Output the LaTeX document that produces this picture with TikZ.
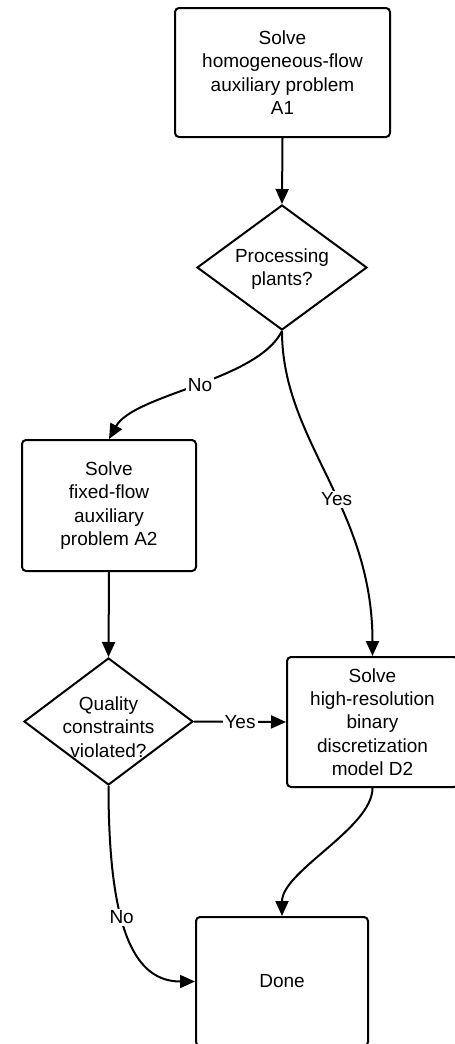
\documentclass[tikz,border=0pt]{standalone}
\usepackage{fontspec}
\setmainfont{Liberation Sans}
\usetikzlibrary{shapes.geometric,arrows.meta}
\begin{document}
\begin{tikzpicture}[x=0.5pt,y=-0.5pt,
  every node/.style={font=\fontsize{9.5pt}{11.7pt}\selectfont},
  box/.style={draw,line width=1pt,rounded corners=2pt,rectangle,align=center,inner sep=0pt},
  dia/.style={draw,line width=1pt,diamond,inner sep=0pt},
  txt/.style={align=center,inner sep=0pt},
  lbl/.style={fill=white,inner sep=1pt},
  conn/.style={line width=1pt,-{Triangle[length=7.5pt,width=6.5pt]}}]
\useasboundingbox (0,0) rectangle (455,1044);
\node[box,minimum width=107.5pt,minimum height=64.5pt] (a1) at (282.5,72.5) {Solve\\homogeneous-flow\\auxiliary problem\\A1};
\node[dia,minimum width=85pt,minimum height=62.5pt] (p) at (282,267.5) {};
\node[txt] (pt) at (282,269) {Processing\\plants?};
\node[box,minimum width=87pt,minimum height=65.5pt] (a2) at (109,505.5) {Solve\\fixed-flow\\auxiliary\\problem A2};
\node[dia,minimum width=84.5pt,minimum height=63.5pt] (q) at (108.5,721.5) {};
\node[txt] (qt) at (108.5,727) {Quality\\constraints\\violated?};
\node[box,minimum width=85.5pt,minimum height=65pt] (d2) at (372.5,722) {Solve\\high-resolution\\binary\\discretization\\model D2};
\node[box,minimum width=86pt,minimum height=64.5pt] (done) at (282,981.5) {Done};

\draw[conn] (a1.south) -- (p.north);
\draw[conn] (p.south) .. controls +(-25,50) and +(25,-45) .. node[lbl,pos=0.48] (no1) {No} (a2.north);
\draw[conn] (p.south) .. controls +(0,110) and +(0,-150) .. node[lbl,pos=0.57] (yes1) {Yes} (d2.north);
\draw[conn] (a2.south) -- (q.north);
\draw[conn] (q.east) -- node[lbl,pos=0.5] (yes2) {Yes} (d2.west);
\draw[conn] (d2.south) .. controls +(0,40) and +(0,-45) .. (done.north);
\draw[conn] (q.south) .. controls +(0,145) and +(-60,0) .. node[lbl,pos=0.4] (no2) {No} (done.west);
\end{tikzpicture}
\end{document}
